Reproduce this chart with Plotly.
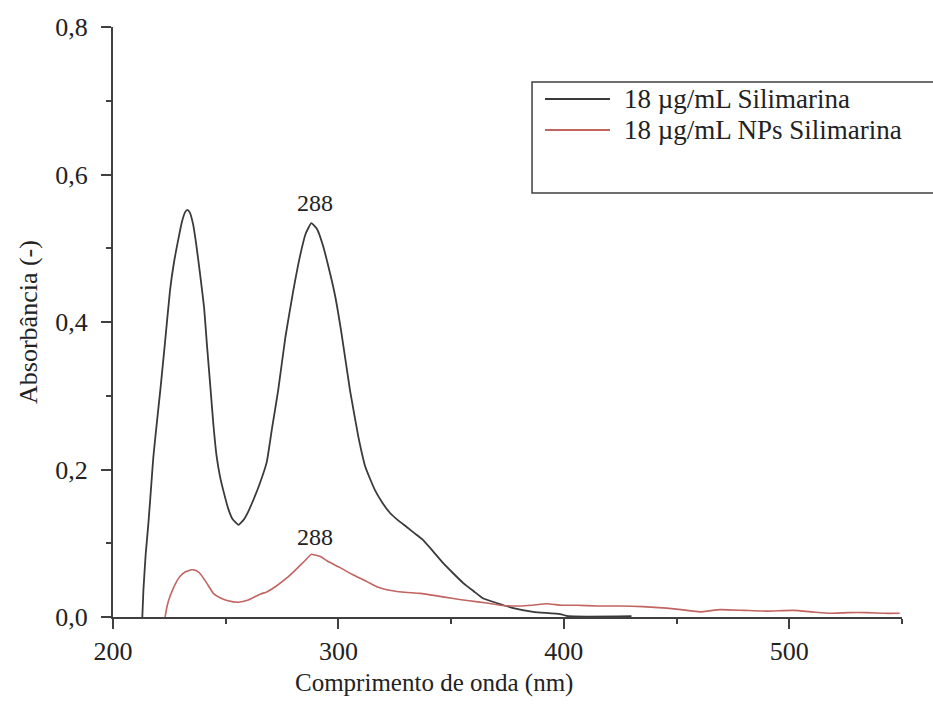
import plotly.graph_objects as go

# UV-Vis absorbance spectra: free silymarin vs. silymarin nanoparticles (18 µg/mL)
wl_free = [213.0, 213.5, 214.5, 215.7, 217.0, 217.9, 219.5, 221.0, 223.0, 225.3,
           227.0, 228.9, 230.5, 232.0, 233.0, 234.0, 235.5, 236.8, 238.5, 240.4,
           241.7, 243.3, 244.5, 246.0, 247.5, 248.9, 251.0, 253.0, 255.6, 258.0,
           260.0, 262.3, 265.0, 268.2, 270.5, 273.3, 276.5, 280.0, 283.0, 285.5,
           288.0, 290.5, 293.0, 295.5, 298.5, 301.5, 305.1, 308.8, 312.0, 316.2,
           319.5, 322.9, 326.5, 330.3, 334.0, 337.7, 342.0, 346.5, 351.0, 355.4,
           360.0, 364.3, 370.2, 377.6, 386.4, 398.3, 402.0, 430.0]
abs_free = [0.000, 0.037, 0.085, 0.127, 0.180, 0.217, 0.265, 0.308, 0.370, 0.443,
            0.480, 0.511, 0.535, 0.549, 0.552, 0.549, 0.533, 0.508, 0.468, 0.420,
            0.368, 0.308, 0.262, 0.217, 0.190, 0.172, 0.148, 0.133, 0.125, 0.132,
            0.143, 0.159, 0.180, 0.210, 0.255, 0.308, 0.380, 0.443, 0.490, 0.520,
            0.534, 0.526, 0.505, 0.476, 0.436, 0.382, 0.308, 0.245, 0.203, 0.172,
            0.155, 0.141, 0.131, 0.122, 0.113, 0.104, 0.089, 0.073, 0.059, 0.046,
            0.035, 0.025, 0.019, 0.012, 0.007, 0.004, 0.001, 0.001]

wl_nps = [223.1, 224.0, 225.3, 227.5, 229.7, 232.0, 234.9, 236.8, 238.6, 241.6,
          244.5, 247.5, 251.0, 255.6, 260.0, 265.2, 268.2, 272.0, 277.1, 281.0,
          285.0, 288.0, 289.6, 292.0, 295.0, 300.7, 306.0, 312.6, 317.0, 321.4,
          328.0, 336.2, 343.0, 351.0, 358.0, 365.8, 371.7, 380.0, 386.0, 392.4,
          399.0, 405.7, 415.0, 425.0, 435.0, 445.6, 452.0, 460.4, 469.3, 480.0,
          490.0, 501.7, 510.0, 518.0, 526.0, 534.4, 542.0, 549.0]
abs_nps = [0.000, 0.015, 0.028, 0.044, 0.055, 0.061, 0.064, 0.063, 0.059, 0.046,
           0.032, 0.026, 0.022, 0.020, 0.023, 0.031, 0.034, 0.041, 0.053, 0.064,
           0.076, 0.085, 0.084, 0.082, 0.076, 0.067, 0.058, 0.048, 0.041, 0.037,
           0.034, 0.032, 0.029, 0.025, 0.022, 0.019, 0.016, 0.015, 0.016, 0.018,
           0.016, 0.016, 0.015, 0.015, 0.014, 0.012, 0.010, 0.007, 0.010, 0.009,
           0.008, 0.009, 0.007, 0.005, 0.006, 0.006, 0.005, 0.005]

series_names = ["18 \u00b5g/mL Silimarina", "18 \u00b5g/mL NPs Silimarina"]
peak_labels = [(288, 0.561, "288"), (288, 0.109, "288")]

x_ticks = [200, 300, 400, 500]
y_ticks = [0.0, 0.2, 0.4, 0.6, 0.8]

FONT = "Liberation Serif, Times New Roman, serif"
BLACK = "#3a3a3a"
RED = "#c26462"
AXIS = "#404040"
TEXT = "#222222"

fig = go.Figure()
fig.add_trace(go.Scatter(x=wl_free, y=abs_free, mode="lines", name=series_names[0],
                         line=dict(color=BLACK, width=1.8, shape="spline", smoothing=0.4),
                         showlegend=False))
fig.add_trace(go.Scatter(x=wl_nps, y=abs_nps, mode="lines", name=series_names[1],
                         line=dict(color=RED, width=1.6, shape="spline", smoothing=0.4),
                         showlegend=False))

for x, y, t in peak_labels:
    fig.add_annotation(x=x, y=y, text=t, showarrow=False, xshift=4,
                       font=dict(family=FONT, size=24, color=TEXT))

# Legend box drawn in paper coordinates (extends past the right edge)
fig.add_shape(type="rect", xref="paper", yref="paper", x0=0.5311, x1=1.06,
              y0=(617 - 193) / 590, y1=(617 - 82) / 590,
              line=dict(color=AXIS, width=1.5), fillcolor="white", layer="above")
legend_rows = [((617 - 99) / 590, BLACK), ((617 - 130) / 590, RED)]
for (yy, col), name in zip(legend_rows, series_names):
    fig.add_shape(type="line", xref="paper", yref="paper",
                  x0=(545 - 113) / 789, x1=(610 - 113) / 789,
                  y0=yy, y1=yy, line=dict(color=col, width=1.8), layer="above")
    fig.add_annotation(xref="paper", yref="paper", x=(622 - 113) / 789, y=yy,
                       text=name, xanchor="left", yanchor="middle", showarrow=False,
                       font=dict(family=FONT, size=27, color=TEXT))

# x-axis title, placed under the data region
fig.add_annotation(xref="paper", yref="paper", x=(434 - 113) / 789, y=-0.112,
                   text="Comprimento de onda (nm)", showarrow=False,
                   xanchor="center", yanchor="middle",
                   font=dict(family=FONT, size=25, color=TEXT))

fig.update_layout(
    width=933, height=710,
    margin=dict(l=113, r=31, t=27, b=93),
    paper_bgcolor="white", plot_bgcolor="white",
    separators=",.",
    font=dict(family=FONT, color=TEXT),
    xaxis=dict(range=[200, 550], tickvals=x_ticks, showgrid=False, zeroline=False,
               showline=True, linecolor=AXIS, linewidth=2,
               ticks="outside", ticklen=10, tickwidth=2, tickcolor=AXIS,
               tickfont=dict(family=FONT, size=26, color=TEXT),
               minor=dict(dtick=50, tick0=200, ticks="outside", ticklen=5,
                          tickwidth=2, tickcolor=AXIS)),
    yaxis=dict(range=[0, 0.8], tickvals=y_ticks, tickformat=".1f", showgrid=False,
               zeroline=False, showline=True, linecolor=AXIS, linewidth=2,
               ticks="outside", ticklen=10, tickwidth=2, tickcolor=AXIS,
               ticklabelstandoff=8,
               tickfont=dict(family=FONT, size=26, color=TEXT),
               title=dict(text="Absorb\u00e2ncia (-)", standoff=10,
                          font=dict(family=FONT, size=26, color=TEXT)),
               minor=dict(dtick=0.1, tick0=0, ticks="outside", ticklen=5,
                          tickwidth=2, tickcolor=AXIS)),
)

fig.write_html("out.html")
